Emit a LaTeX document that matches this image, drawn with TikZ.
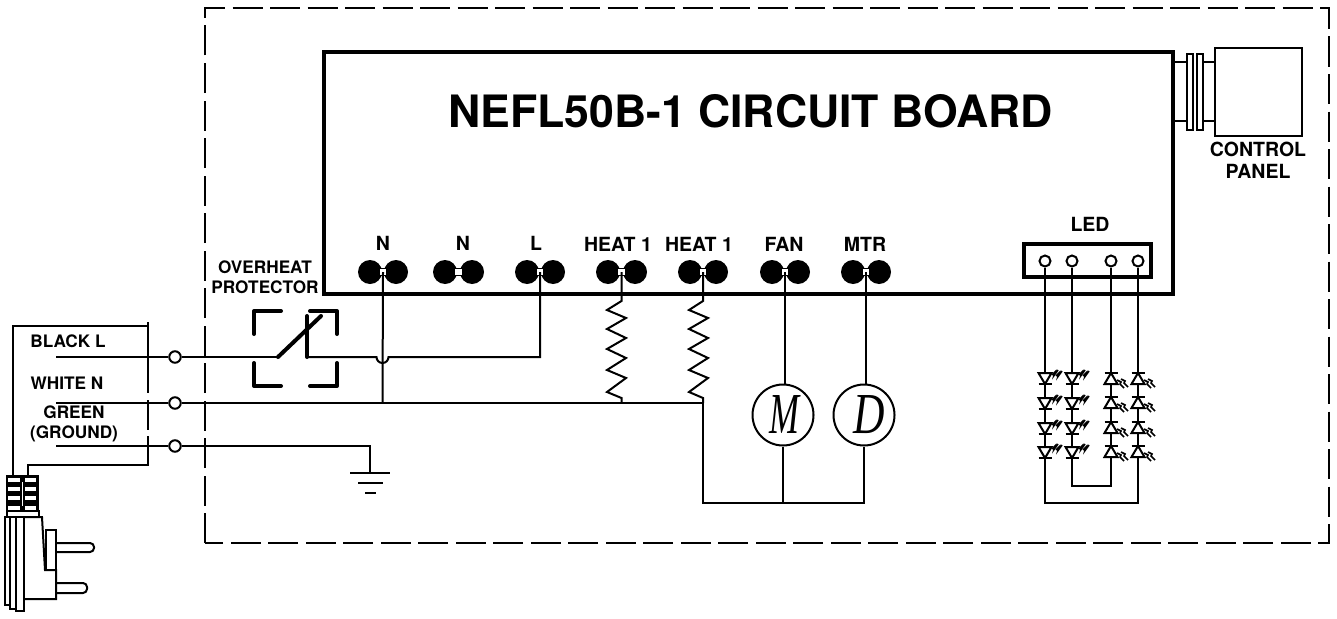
\documentclass[tikz,border=0pt]{standalone}
\usepackage{fontspec}
\setmainfont{TeX Gyre Heros}
\newfontfamily\letterfont{Liberation Serif}
\usetikzlibrary{calc}
\tikzset{
  wire/.style={line width=2pt, line join=miter},
  frame/.style={line width=2.6pt, dash pattern=on 30pt off 7.5pt},
  board/.style={draw, line width=3.2pt, minimum width=849pt, minimum height=242pt, inner sep=0pt, outer sep=0pt},
  lab/.style={font=\fontsize{19.5}{21}\selectfont\bfseries, inner sep=0pt, align=center},
  note/.style={font=\fontsize{17.2}{18}\selectfont\bfseries, inner sep=0pt, align=center},
  title/.style={font=\fontsize{44.6}{48}\selectfont\bfseries, inner sep=0pt},
  ball/.style={circle, fill=black, minimum size=24pt, inner sep=0pt},
  hole/.style={circle, draw, fill=white, line width=2pt, minimum size=11pt, inner sep=0pt},
  pin/.style={circle, draw, fill=white, line width=2pt, minimum size=11.5pt, inner sep=0pt},
  motor/.style={circle, draw, fill=white, line width=2pt, minimum size=61pt, inner sep=0pt},
  heavy/.style={line width=4pt, line cap=round, line join=round},
  plug/.style={line width=2pt, line join=miter},
  ledD/.pic={
    \draw[line width=2pt, fill=white] (-6.5,0) -- (6.5,0) -- (0,11) -- cycle;
    \draw[line width=2.4pt] (-6.5,11) -- (6.5,11);
    \draw[line width=1.6pt] (7,2) -- (10,-1) -- (9,2.5) -- (13,-3);
    \draw[line width=1.6pt] (11,3) -- (14,0) -- (13,3.5) -- (17,-2);
  },
  ledU/.pic={
    \draw[line width=2.4pt] (-6.5,0) -- (6.5,0);
    \draw[line width=2pt, fill=white] (-6.5,11) -- (6.5,11) -- (0,0) -- cycle;
    \draw[line width=1.6pt] (6,7) -- (10,9) -- (9,11) -- (13,15);
    \draw[line width=1.6pt] (10,6) -- (14,8) -- (13,10) -- (17,14);
  }
}
\newcommand{\terminal}[3]{% name, left x, right x
  \node[ball] at (#2,272) {};
  \node[ball] at (#3,272) {};
  \draw[line width=1.6pt, fill=white] ($(#2,268.5)+(9,0)$) rectangle ($(#3,275.5)+(-9,0)$);
  \coordinate (#1) at ($(#2,272)!0.5!(#3,272)$);
}
\begin{document}
\begin{tikzpicture}[x=1pt, y=-1pt]
\useasboundingbox (0,0) rectangle (1337,618);
\fill[white] (0,0) rectangle (1337,618);

% dashed enclosure
\draw[frame] (205,543) -- (205,8) -- (1329,8) -- (1329,543) -- cycle;

% board
\node[board, anchor=north west] (brd) at (324,52) {};
\node[title] (ttl) at (750.5,111) {NEFL50B-1 CIRCUIT BOARD};

% control panel
\node[draw, line width=2.2pt, minimum width=87pt, minimum height=88pt, inner sep=0pt, outer sep=0pt, anchor=north west] (panel) at (1215,48) {};
\node[draw, line width=2pt, minimum width=6pt, minimum height=76pt, inner sep=0pt, outer sep=0pt] (fla) at (1190,92) {};
\node[draw, line width=2pt, minimum width=6pt, minimum height=76pt, inner sep=0pt, outer sep=0pt] (flb) at (1200,92) {};
\draw[wire] (1173,62) -- (fla.west |- 0,62) (flb.east |- 0,62) -- (panel.west |- 0,62);
\draw[wire] (1173,121) -- (fla.west |- 0,121) (flb.east |- 0,121) -- (panel.west |- 0,121);
\node[lab] (cp) at (1258,160.5) {CONTROL\\[1.5pt]PANEL};

% terminals
\terminal{tNa}{370}{396}
\terminal{tNb}{445}{472}
\terminal{tL}{527}{553}
\terminal{tHa}{608}{635}
\terminal{tHb}{690}{716}
\terminal{tF}{772}{798}
\terminal{tM}{853}{879}
\node[lab] (lNa) at (383,243) {N};
\node[lab] (lNb) at (463,243) {N};
\node[lab] (lL) at (536,243) {L};
\node[lab] (lHa) at (618,244) {HEAT 1};
\node[lab] (lHb) at (699,244) {HEAT 1};
\node[lab] (lF) at (784,244) {FAN};
\node[lab] (lM) at (865,244) {MTR};
\node[note] (lop) at (265,277) {OVERHEAT\\[2.5pt]PROTECTOR};

% mains labels
\node[note] (lbk) at (68,341) {BLACK L};
\node[note] (lwh) at (67,383) {WHITE N};
\node[note] (lgr) at (74,424) {GREEN\\[2.5pt](GROUND)};

% cable box
\coordinate (cbA) at (13,476);
\coordinate (cbB) at (13,326);
\coordinate (cbC) at (148,326);
\coordinate (cbD) at (148,465);
\coordinate (cbE) at (28,465);
\coordinate (cbF) at (28,476);
\draw[wire] (cbA) -- (cbB) -- (cbC);
\draw[wire] (148,322) -- (148,393) (148,400) -- (148,430) (148,436) -- (cbD) -- (cbE) -- (cbF);

% mains wires
\node[pin] (pL) at (175,357) {};
\node[pin] (pN) at (175,403) {};
\node[pin] (pG) at (175,446) {};
\coordinate (eL) at (56,357);
\coordinate (eN) at (56,403);
\coordinate (eG) at (56,446);
\coordinate (swA) at (278,357);
\coordinate (swB) at (307,357);
\coordinate (swC) at (321,316);
\coordinate (swD) at (307,316);
\coordinate (gnd) at (370,473);
\coordinate (jNa) at (382.5,403);
\coordinate (jHa) at (621.5,403);
\coordinate (jHb) at (703,403);
\draw[wire] (eL) -- (pL) -- (swA);
\draw[wire] (eN) -- (pN) -- (jNa) -- (jHa) -- (jHb);
\draw[wire] (eG) -- (pG) -- (gnd |- pG) -- (gnd);
\draw[wire] (swB) -- (376.5,357) arc[start angle=180, end angle=0, radius=6] -- (tL |- swB) -- (tL);
\draw[wire] (tNa) -- (jNa);

% ground
\draw[line width=2pt] (350,473) -- (390,473);
\draw[line width=2pt] (358,483) -- (383,483);
\draw[line width=2pt] (365,493) -- (376,493);

% overheat protector
\draw[heavy] (281,311) -- (254,311) -- (254,334);
\draw[heavy] (310,311) -- (337,311) -- (337,334);
\draw[heavy] (254,363) -- (254,386) -- (281,386);
\draw[heavy] (337,363) -- (337,386) -- (310,386);
\draw[heavy] (swA) -- (swC);
\draw[heavy] (swD) -- (swB);

% heaters
\draw[wire] (tHa) -- (621.5,301) -- (607,310) -- (626,318) -- (607,329) -- (626,338) -- (607,349) -- (626,358) -- (607,370) -- (626,378) -- (607,392) -- (621.5,398) -- (jHa);
\draw[wire] (tHb) -- (703,301) -- (689,310) -- (708,318) -- (689,329) -- (708,338) -- (689,349) -- (708,358) -- (689,370) -- (708,378) -- (689,392) -- (703,398) -- (jHb);

% motors
\node[motor] (mM) at (783,415) {\hspace*{3pt}\letterfont\itshape\fontsize{58}{58}\selectfont\scalebox{0.62}[1]{M}};
\node[motor] (mD) at (864,415) {\hspace*{11pt}\letterfont\itshape\fontsize{58}{58}\selectfont\scalebox{0.75}[1]{D}};
\coordinate (bA) at (703,503);
\draw[wire] (tF) -- (tF |- mM.north);
\draw[wire] (tM) -- (tM |- mD.north);
\draw[wire] (jHb) -- (bA) -- (mD.south |- bA) -- (mD.south);
\draw[wire] (mM.south) -- (mM.south |- bA);

% led connector
\node[draw, line width=4pt, minimum width=127pt, minimum height=33pt, inner sep=0pt, outer sep=0pt, anchor=north west] (lbox) at (1024,244) {};
\node[lab] (lled) at (1090,224) {LED};
\node[hole] (ha) at (1045,261) {};
\node[hole] (hb) at (1072,261) {};
\node[hole] (hc) at (1111,261) {};
\node[hole] (hd) at (1138,261) {};
\coordinate (lo) at (1091,503);
\coordinate (li) at (1091,486);
\draw[wire] (ha) -- (ha |- lo) -- (hd |- lo) -- (hd);
\draw[wire] (hb) -- (hb |- li) -- (hc |- li) -- (hc);
\foreach \y in {373,398,423,447} {
  \pic at (1045,\y) {ledD};
  \pic at (1072,\y) {ledD};
}
\foreach \y in {373,397,422,446} {
  \pic at (1111,\y) {ledU};
  \pic at (1138,\y) {ledU};
}

% plug
\fill (6,475) rectangle (38.5,511);
\foreach \y in {479.5,489,498,508} {
  \fill[white] (8,\y-2) rectangle (19.5,\y+2);
  \fill[white] (25,\y-2) rectangle (36,\y+2);
}
\draw[line width=0.6pt, white] (22,482) -- (22,506);
\draw[plug] (7,511) rectangle (39,517);
\draw[plug] (5,517) rectangle (10,605);
\draw[plug] (10,517) rectangle (16,609);
\draw[plug] (16,517) rectangle (24,611);
\draw[plug] (24,517) -- (42,517) -- (45,570) -- (56,570) -- (56,599) -- (24,599);
\draw[plug] (46,530) rectangle (56,570);
\draw[plug, rounded corners=4pt] (56,543) -- (94,543) -- (94,552) -- (56,552);
\draw[plug, rounded corners=4pt] (56,583) -- (87,583) -- (87,593) -- (56,593);
\end{tikzpicture}
\end{document}
